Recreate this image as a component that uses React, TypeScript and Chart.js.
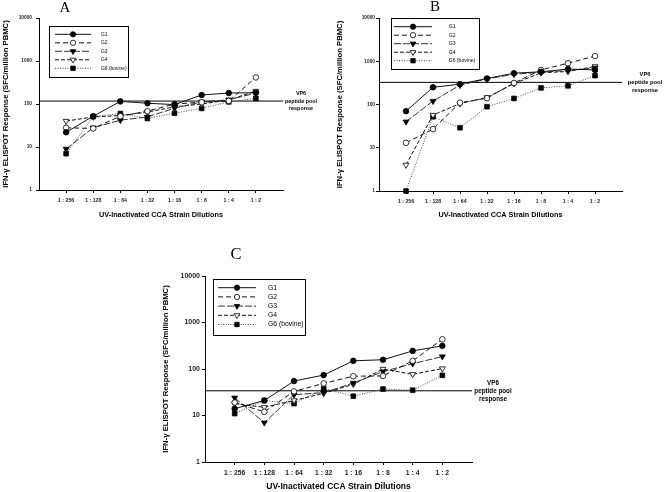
import React, { useEffect, useRef } from 'react';
import { Chart, registerables } from 'chart.js';

Chart.register(...registerables);

// ---------------- data ----------------
const dilutions = ['1 : 256', '1 : 128', '1 : 64', '1 : 32', '1 : 16', '1 : 8', '1 : 4', '1 : 2'];
const yTickValues = [1, 10, 100, 1000, 10000];
const groupNames = ['G1', 'G2', 'G3', 'G4', 'G6 (bovine)'];
const xTitle = 'UV-Inactivated CCA Strain Dilutions';
const yTitle = 'IFN-γ ELISPOT Response (SFC/million PBMC)';
const refLabel = ['VP6', 'peptide pool', 'response'];

const panelA_G1 = [22, 52, 115, 104, 97, 162, 180, 183];
const panelA_G2 = [28, 27, 52, 68, 100, 110, 118, 415];
const panelA_G3 = [9, 28, 42, 50, 80, 112, 125, 180];
const panelA_G4 = [40, 50, 54, 65, 86, 100, 124, 200];
const panelA_G6 = [7, 51, 60, 46, 61, 79, 112, 135];
const panelA_VP6 = 117;

const panelB_G1 = [70, 250, 295, 400, 530, 570, 660, 630];
const panelB_G2 = [13, 27, 110, 140, 315, 630, 900, 1320];
const panelB_G3 = [40, 120, 280, 390, 500, 560, 610, 700];
const panelB_G4 = [4, 57, 105, 145, 305, 540, 580, 760];
const panelB_G6 = [1, 52, 29, 89, 138, 242, 270, 465];
const panelB_VP6 = 325;

const panelC_G1 = [14, 21, 55, 74, 150, 158, 245, 315];
const panelC_G2 = [19, 12, 33, 49, 70, 71, 150, 435];
const panelC_G3 = [24, 7, 28, 31, 50, 88, 130, 185];
const panelC_G4 = [18, 15, 21, 30, 47, 100, 77, 102];
const panelC_G6 = [11, 21, 18, 38, 26, 37, 35, 73];
const panelC_VP6 = 34;

// ---------------- styles ----------------
const SANS = '"Liberation Sans", Arial, sans-serif';
const SERIF = '"Liberation Serif", "Times New Roman", serif';

const groupStyles = [
  { dash: [], shape: 'circle', fill: '#000', r: 2.8, color: '#111' },
  { dash: [5, 3], shape: 'circle', fill: '#fff', r: 2.8, color: '#111' },
  { dash: [7, 2], shape: 'triangle', fill: '#000', r: 3.4, color: '#333' },
  { dash: [4, 2], shape: 'triangle', fill: '#fff', r: 3.4, color: '#111' },
  { dash: [1, 1.5], shape: 'rect', fill: '#000', r: 3.3, color: '#444' },
];

const panels = [
  {
    letter: 'A',
    series: [panelA_G1, panelA_G2, panelA_G3, panelA_G4, panelA_G6],
    vp6: panelA_VP6,
    box: { left: 0, top: 0, width: 332, height: 240 },
    pad: { top: 18, right: 49, bottom: 0, left: 0 },
    yWidth: 39, xHeight: 50,
    letterPos: [65, 8], letterSize: 15,
    tickX: 5.2, tickY: 4.8, xTitleSize: 7.3, yTitleSize: 7.7,
    yTitlePad: 1, xTitlePad: 21, yTickPad: 4, xTickPad: 4,
    legend: { x: 49, y: 26, w: 79, h: 51, rowY: 34.3, rowGap: 8.5, x1: 55, x2: 91, tx: 101, font: 4.9 },
    ref: { dx: 18, gap: 7.5, font: 5.4 },
  },
  {
    letter: 'B',
    series: [panelB_G1, panelB_G2, panelB_G3, panelB_G4, panelB_G6],
    vp6: panelB_VP6,
    box: { left: 332, top: 0, width: 332, height: 240 },
    pad: { top: 18, right: 42, bottom: 0, left: 0 },
    yWidth: 47, xHeight: 49,
    letterPos: [103, 7], letterSize: 15,
    tickX: 5.2, tickY: 4.8, xTitleSize: 7.3, yTitleSize: 7.7,
    yTitlePad: 3.4, xTitlePad: 21, yTickPad: 1, xTickPad: 4,
    legend: { x: 59, y: 18, w: 88, h: 51, rowY: 26.7, rowGap: 8.5, x1: 62, x2: 100, tx: 116.7, font: 5.1 },
    ref: { dx: 23, gap: 8.2, font: 5.8 },
  },
  {
    letter: 'C',
    series: [panelC_G1, panelC_G2, panelC_G3, panelC_G4, panelC_G6],
    vp6: panelC_VP6,
    box: { left: 150, top: 240, width: 380, height: 252 },
    pad: { top: 36, right: 58, bottom: 0, left: 0 },
    yWidth: 55, xHeight: 30,
    letterPos: [86, 15], letterSize: 16.5,
    tickX: 6.8, tickY: 7, xTitleSize: 8.5, yTitleSize: 7.7,
    yTitlePad: 10.8, xTitlePad: 0, yTickPad: 2, xTickPad: 4,
    legend: { x: 63, y: 39, w: 92, h: 56, rowY: 47.7, rowGap: 9.2, x1: 68, x2: 106, tx: 118, font: 6.8 },
    ref: { dx: 21, gap: 8, font: 6.3 },
  },
];

function drawMarker(ctx: CanvasRenderingContext2D, shape: string, x: number, y: number, r: number, fill: string) {
  ctx.beginPath();
  if (shape === 'circle') {
    ctx.arc(x, y, r, 0, Math.PI * 2);
  } else if (shape === 'rect') {
    const s = r * Math.SQRT1_2;
    ctx.rect(x - s, y - s, 2 * s, 2 * s);
  } else {
    for (let k = 0; k < 3; k++) {
      const a = Math.PI + (k * 2 * Math.PI) / 3;
      const px = x + Math.sin(a) * r;
      const py = y - Math.cos(a) * r;
      if (k === 0) ctx.moveTo(px, py);
      else ctx.lineTo(px, py);
    }
  }
  ctx.closePath();
  ctx.setLineDash([]);
  ctx.fillStyle = fill;
  ctx.fill();
  ctx.strokeStyle = '#000';
  ctx.lineWidth = 0.8;
  ctx.stroke();
}

function makeDecor(p: any) {
  return {
    id: 'decor' + p.letter,
    beforeDatasetsDraw(chart: any) {
      const { ctx, chartArea: ca, scales } = chart;
      const y = scales.y.getPixelForValue(p.vp6);
      ctx.save();
      ctx.strokeStyle = '#000';
      ctx.lineWidth = 1;
      ctx.setLineDash([]);
      ctx.beginPath();
      ctx.moveTo(ca.left, y);
      ctx.lineTo(ca.right, y);
      ctx.stroke();
      ctx.fillStyle = '#000';
      ctx.font = `bold ${p.ref.font}px ${SANS}`;
      ctx.textAlign = 'center';
      ctx.textBaseline = 'middle';
      refLabel.forEach((t, i) => ctx.fillText(t, ca.right + p.ref.dx, y + (i - 1) * p.ref.gap));
      ctx.restore();
    },
    afterDraw(chart: any) {
      const { ctx } = chart;
      const L = p.legend;
      ctx.save();
      // panel letter
      ctx.fillStyle = '#000';
      ctx.font = `${p.letterSize}px ${SERIF}`;
      ctx.textAlign = 'center';
      ctx.textBaseline = 'middle';
      ctx.fillText(p.letter, p.letterPos[0], p.letterPos[1]);
      // legend box
      ctx.fillStyle = '#fff';
      ctx.fillRect(L.x, L.y, L.w, L.h);
      ctx.strokeStyle = '#000';
      ctx.lineWidth = 1;
      ctx.setLineDash([]);
      ctx.strokeRect(L.x + 0.5, L.y + 0.5, L.w, L.h);
      groupNames.forEach((name, i) => {
        const st = groupStyles[i];
        const ry = L.rowY + i * L.rowGap;
        ctx.strokeStyle = st.color;
        ctx.lineWidth = 1;
        ctx.setLineDash(st.dash);
        ctx.beginPath();
        ctx.moveTo(L.x1, ry);
        ctx.lineTo(L.x2, ry);
        ctx.stroke();
        drawMarker(ctx, st.shape, (L.x1 + L.x2) / 2, ry, st.r * 0.95, st.fill);
        ctx.fillStyle = '#000';
        ctx.font = `${L.font}px ${SANS}`;
        ctx.textAlign = 'left';
        ctx.textBaseline = 'middle';
        ctx.fillText(name, L.tx, ry);
      });
      ctx.restore();
    },
  };
}

function Panel({ p }: { p: any }) {
  const ref = useRef<HTMLCanvasElement | null>(null);
  useEffect(() => {
    if (!ref.current) return;
    const axisGrid = {
      display: true,
      drawOnChartArea: false,
      drawTicks: true,
      tickLength: 3,
      color: '#000',
      lineWidth: 1,
    };
    const chart = new Chart(ref.current, {
      type: 'line',
      data: {
        datasets: groupNames.map((name, i) => {
          const st = groupStyles[i];
          return {
            label: name,
            data: p.series[i].map((v: number, j: number) => ({ x: j, y: v })),
            borderColor: st.color,
            borderWidth: 1,
            borderDash: st.dash,
            pointStyle: st.shape,
            pointRotation: st.shape === 'triangle' ? 180 : 0,
            pointRadius: st.r,
            pointBackgroundColor: st.fill,
            pointBorderColor: '#000',
            pointBorderWidth: 0.8,
            fill: false,
            tension: 0,
            clip: false,
          } as any;
        }),
      },
      options: {
        animation: false,
        responsive: false,
        maintainAspectRatio: false,
        layout: { padding: p.pad },
        plugins: {
          legend: { display: false },
          tooltip: { enabled: false },
          title: { display: false },
        },
        scales: {
          x: {
            type: 'linear',
            min: -1,
            max: 8,
            afterBuildTicks: (s: any) => {
              s.ticks = dilutions.map((_, i) => ({ value: i }));
            },
            afterFit: (s: any) => {
              s.height = p.xHeight;
            },
            ticks: {
              callback: (v: any) => dilutions[v] ?? '',
              font: { family: SANS, size: p.tickX, weight: 'bold' },
              color: '#222',
              padding: p.xTickPad,
              maxRotation: 0,
              autoSkip: false,
            },
            grid: axisGrid,
            border: { display: true, color: '#000', width: 1 },
            title: {
              display: true,
              text: xTitle,
              font: { family: SANS, size: p.xTitleSize, weight: 'bold' },
              color: '#000',
              padding: { top: 0, bottom: p.xTitlePad },
            },
          },
          y: {
            type: 'logarithmic',
            min: 1,
            max: 10000,
            afterBuildTicks: (s: any) => {
              s.ticks = yTickValues.map((v) => ({ value: v }));
            },
            afterFit: (s: any) => {
              s.width = p.yWidth;
            },
            ticks: {
              callback: (v: any) => String(v),
              font: { family: SANS, size: p.tickY, weight: 'bold' },
              color: '#222',
              padding: p.yTickPad,
              autoSkip: false,
            },
            grid: axisGrid,
            border: { display: true, color: '#000', width: 1 },
            title: {
              display: true,
              text: yTitle,
              font: { family: SANS, size: p.yTitleSize, weight: 'bold' },
              color: '#000',
              padding: { top: p.yTitlePad, bottom: 0 },
            },
          },
        },
      } as any,
      plugins: [makeDecor(p)],
    });
    return () => chart.destroy();
  }, [p]);
  return (
    <canvas
      ref={ref}
      width={p.box.width}
      height={p.box.height}
      style={{ position: 'absolute', left: p.box.left, top: p.box.top, width: p.box.width, height: p.box.height }}
    />
  );
}

export default function App() {
  return (
    <div style={{ position: 'absolute', left: 0, top: 0, width: 664, height: 492, background: '#fff', overflow: 'hidden' }}>
      {panels.map((p) => (
        <Panel key={p.letter} p={p} />
      ))}
    </div>
  );
}
